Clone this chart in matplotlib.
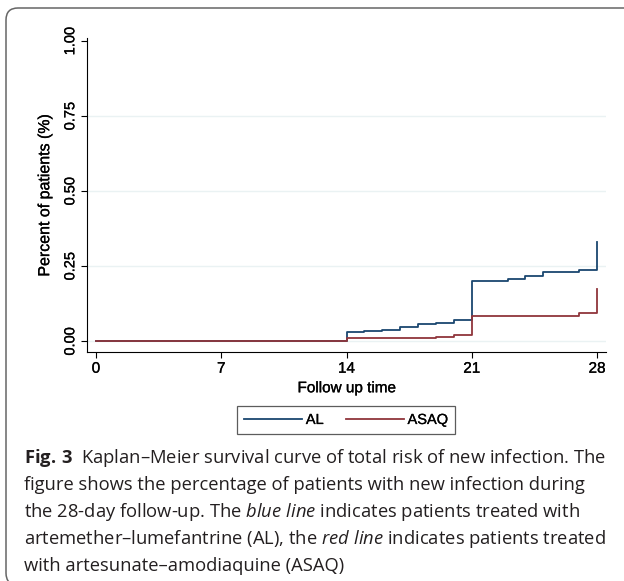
import matplotlib
matplotlib.use("Agg")
import matplotlib.pyplot as plt
import matplotlib.patheffects as pe
from matplotlib.patches import FancyBboxPatch
from matplotlib.transforms import IdentityTransform

plt.rcParams['font.family'] = ['Liberation Sans', 'DejaVu Sans']
plt.rcParams['mathtext.fontset'] = 'custom'
plt.rcParams['mathtext.rm'] = 'Open Sans'
plt.rcParams['mathtext.it'] = 'Open Sans:italic'
plt.rcParams['mathtext.bf'] = 'Open Sans:bold'

# Kaplan-Meier failure estimates
al_days = [0, 14, 15, 16, 17, 18, 19, 20, 21, 22, 23, 24, 25, 27, 28]
al_risk = [0, 0.031, 0.034, 0.038, 0.048, 0.056, 0.062, 0.071,
           0.199, 0.202, 0.207, 0.217, 0.232, 0.238, 0.329]
asaq_days = [0, 14, 19, 20, 21, 27, 28]
asaq_risk = [0, 0.009, 0.013, 0.019, 0.085, 0.094, 0.173]

xticks = [0, 7, 14, 21, 28]
yticks = [0, 0.25, 0.5, 0.75, 1.0]
ytick_labels = ['0.00', '0.25', '0.50', '0.75', '1.00']

caption = [
    r"$\mathbf{Fig.\,3}$  Kaplan–Meier survival curve of total risk of new infection. The",
    "figure shows the percentage of patients with new infection during",
    r"the 28-day follow-up. The $\mathit{blue\ line}$ indicates patients treated with",
    r"artemether–lumefantrine (AL), the $\mathit{red\ line}$ indicates patients treated",
    "with artesunate–amodiaquine (ASAQ)",
]

W, H = 624, 581
fig = plt.figure(figsize=(W / 100, H / 100), dpi=100)
ax = fig.add_axes([87 / W, 1 - 352 / H, (606 - 87) / W, (352 - 38) / H])

for y in yticks[:-1]:
    ax.axhline(y, color='#eaf2f3', lw=1.0, zorder=0)

ax.step(al_days, al_risk, where='post', color='#1a476f', lw=1.3, label='AL')
ax.step(asaq_days, asaq_risk, where='post', color='#90353b', lw=1.3, label='ASAQ')

ax.set_xlim(-0.5, 28.5)
ax.set_ylim(-0.036, 1.01)
ax.set_xticks(xticks)
ax.set_yticks(yticks)
ax.set_yticklabels(ytick_labels, rotation=90, va='center')
ax.tick_params(axis='both', direction='out', length=4, width=0.8, color='black', pad=3)
ax.tick_params(axis='x', labelsize=11)
ax.tick_params(axis='y', labelsize=10.5)
for s in ['top', 'right']:
    ax.spines[s].set_visible(False)
for s in ['left', 'bottom']:
    ax.spines[s].set_linewidth(0.8)
ax.set_xlabel('Follow up time', fontsize=11, labelpad=4)
ax.set_ylabel('Percent of patients (%)', fontsize=11.5, labelpad=8)

leg = fig.legend(loc='center', bbox_to_anchor=(346 / W, 1 - 420 / H), ncol=2,
                 fontsize=10.5, frameon=True, fancybox=False, handlelength=4.0,
                 handletextpad=0.25, columnspacing=1.5, borderpad=0.5)
leg.get_frame().set_edgecolor('#333333')
leg.get_frame().set_linewidth(0.9)

# the source image is a bit blurry/heavy, thicken chart text a touch
heavy = [pe.withStroke(linewidth=0.2, foreground='black')]
chart_texts = (ax.get_xticklabels() + ax.get_yticklabels()
               + [ax.xaxis.label, ax.yaxis.label] + leg.get_texts())
for t in chart_texts:
    t.set_path_effects(heavy)

for i, line in enumerate(caption):
    fig.text(24 / W, 1 - (463 + 27 * i) / H, line, family='Open Sans',
             fontsize=13.2, va='baseline', ha='left', color='#231f20')

frame = FancyBboxPatch((6, -4), 650, 581 - 8 + 4,
                       boxstyle='round,pad=0,rounding_size=12',
                       transform=IdentityTransform(), fill=False,
                       edgecolor='#666666', lw=1.1)
fig.patches.append(frame)

fig.savefig('out.png', dpi=100)
